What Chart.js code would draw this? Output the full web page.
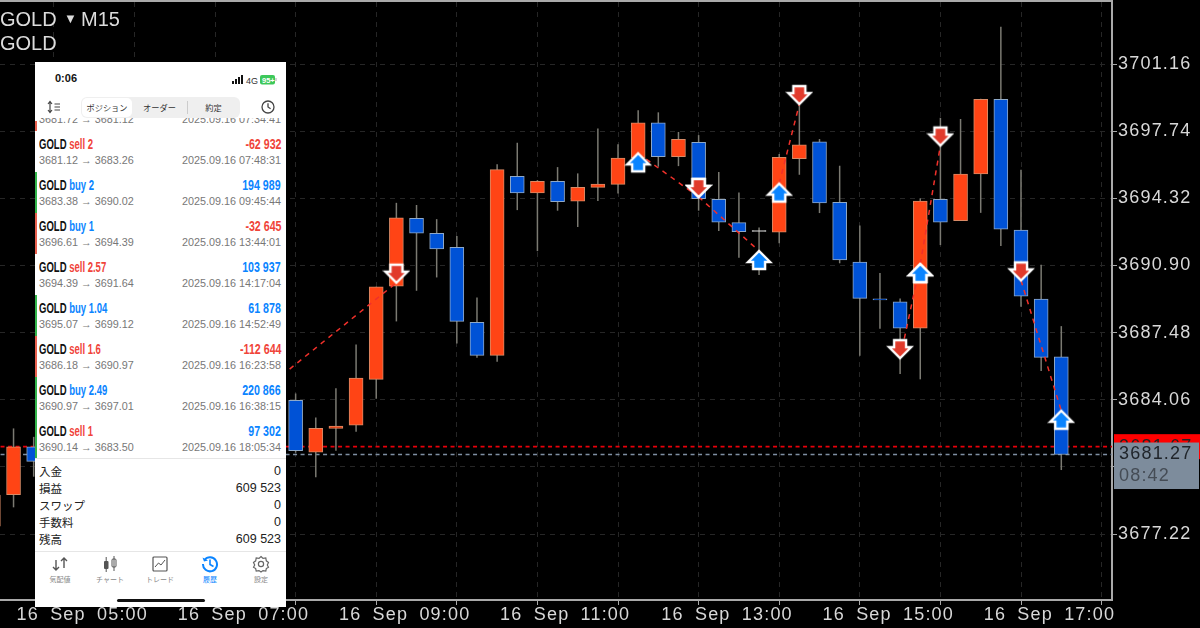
<!DOCTYPE html>
<html><head><meta charset="utf-8">
<script src="https://cdn.jsdelivr.net/npm/chart.js@4"></script>
<style>
html,body{margin:0;padding:0;background:#000;width:1200px;height:628px;overflow:hidden}
#c{position:absolute;left:0;top:0}
.h{position:absolute;color:#dcdcdc;font:20px 'Liberation Sans',sans-serif;white-space:nowrap;line-height:24px}
#ph{position:absolute;left:35px;top:62px;width:251px;height:545px;background:#fff;overflow:hidden;font-family:'Liberation Sans',sans-serif;color:#111}
#ph>*{position:absolute}
.a{position:absolute;white-space:nowrap}
.t{font:bold 14px/14px 'Liberation Sans',sans-serif;transform:scaleX(.68);transform-origin:left center}
.v{font:bold 14px/14px 'Liberation Sans',sans-serif;transform:scaleX(.76);transform-origin:right center;right:5px}
.s{font:10.8px/12px 'Liberation Sans',sans-serif;color:#777}
.j{font-family:'Noto Sans CJK JP',sans-serif}
.lab{font:7px/9px 'Noto Sans CJK JP',sans-serif;color:#888;width:50px;text-align:center}
</style></head><body>
<canvas id="c" width="1200" height="628"></canvas>
<div class="h" style="left:0;top:7px">GOLD</div>
<div class="h" style="left:64px;top:7px;font-size:13px">▼</div>
<div class="h" style="left:81px;top:7px">M15</div>
<div class="h" style="left:0;top:31px">GOLD</div>
<div id="ph"></div>
<script>
// ---------- candles (15-minute bars), prices ----------
const times = ['04:45','05:00','05:15','08:30','08:45','09:00','09:15','09:30','09:45','10:00','10:15','10:30','10:45','11:00','11:15','11:30','11:45','12:00','12:15','12:30','12:45','13:00','13:15','13:30','13:45','14:00','14:15','14:30','14:45','15:00','15:15','15:30','15:45','16:00','16:15','16:30','16:45','17:00','17:15','17:30','17:45','18:00'];
const opens = [3677.62,3679.22,3681.66,3684.03,3681.39,3682.60,3682.77,3685.10,3689.85,3693.30,3692.54,3691.82,3688.00,3686.32,3695.44,3694.60,3695.18,3694.18,3694.88,3695.03,3696.37,3698.17,3696.44,3697.17,3694.27,3693.08,3692.64,3692.60,3696.34,3697.20,3694.11,3691.07,3689.20,3689.05,3687.70,3694.27,3693.18,3695.56,3699.36,3692.70,3689.19,3686.25];
const highs = [3679.20,3682.60,3682.17,3684.38,3683.16,3684.64,3686.88,3689.81,3694.09,3693.98,3693.26,3692.40,3689.27,3696.05,3697.15,3695.25,3695.91,3695.59,3697.88,3697.08,3698.80,3698.70,3697.70,3697.54,3695.66,3694.62,3692.84,3696.58,3699.17,3697.34,3695.98,3692.94,3690.51,3689.22,3694.32,3698.42,3698.36,3699.39,3703.06,3695.78,3690.94,3687.81];
const lows = [3677.62,3678.58,3680.14,3681.36,3680.11,3681.46,3682.43,3684.11,3688.05,3689.61,3690.29,3686.93,3686.20,3685.99,3693.72,3691.63,3693.69,3692.86,3694.18,3694.57,3696.37,3695.93,3695.96,3693.69,3692.65,3691.29,3690.41,3692.03,3695.52,3693.57,3691.01,3686.30,3687.68,3685.37,3685.10,3691.94,3693.18,3693.58,3691.89,3688.80,3685.52,3680.48];
const closes = [3679.20,3681.66,3680.92,3681.46,3682.60,3682.72,3685.16,3689.81,3693.33,3692.55,3691.74,3688.05,3686.32,3695.78,3694.60,3695.18,3694.15,3694.88,3695.05,3696.37,3698.17,3696.44,3697.32,3694.30,3693.10,3692.62,3692.64,3696.41,3697.05,3694.08,3691.18,3689.22,3689.14,3687.70,3694.18,3693.11,3695.56,3699.36,3692.75,3689.33,3686.22,3681.27];

// ---------- trades: open / close bar and price ----------
const tradeOpenBars = ['07:45','12:45','13:30','14:30','16:00','16:15','17:30'];
const tradeCloseBars = ['09:45','13:30','14:15','14:45','16:15','16:30','18:00'];
const tradeOpenPrices = [3683.38,3696.61,3694.39,3695.07,3686.18,3690.97,3690.14];
const tradeClosePrices = [3690.02,3694.39,3691.64,3699.12,3690.97,3697.01,3683.50];
const tradeSides = ['buy','buy','sell','buy','sell','buy','sell'];

// ---------- axes ----------
const priceTicks = [3701.16,3697.74,3694.32,3690.90,3687.48,3684.06,3680.64,3677.22];
const hourTicks = [5,6,7,8,9,10,11,12,13,14,15,16,17,18];
const bidPrice = 3681.27, askPrice = 3681.67;
const countdown = '08:42';

// ---------- phone panel ----------
const rowNames = ['sell 2','buy 2','buy 1','sell 2.57','buy 1.04','sell 1.6','buy 2.49','sell 1'];
const rowProfit = ['-62 932','194 989','-32 645','103 937','61 878','-112 644','220 866','97 302'];
const rowPrices = ['3681.12 → 3683.26','3683.38 → 3690.02','3696.61 → 3694.39','3694.39 → 3691.64','3695.07 → 3699.12','3686.18 → 3690.97','3690.97 → 3697.01','3690.14 → 3683.50'];
const rowTimes = ['2025.09.16 07:48:31','2025.09.16 09:45:44','2025.09.16 13:44:01','2025.09.16 14:17:04','2025.09.16 14:52:49','2025.09.16 16:23:58','2025.09.16 16:38:15','2025.09.16 18:05:34'];
const summaryLabels = ['入金','損益','スワップ','手数料','残高'];
const summaryValues = ['0','609 523','0','0','609 523'];
const tabLabels = ['ポジション','オーダー','約定'];
const navLabels = ['気配値','チャート','トレード','履歴','設定'];

const RED='#FF4415', BLUE='#0052D6';
const hour = s => { const [h,m]=s.split(':').map(Number); return h+m/60; };

function arrowCanvas(dir, fill){
  const c=document.createElement('canvas'); c.width=28; c.height=44;
  const g=c.getContext('2d'); g.translate(14,22); if(dir==='up') g.scale(1,-1);
  // tip at the centre of the image, shaft away from it
  g.beginPath();
  g.moveTo(0,0); g.lineTo(11,-11); g.lineTo(6,-11); g.lineTo(6,-18); g.lineTo(-6,-18); g.lineTo(-6,-11); g.lineTo(-11,-11); g.closePath();
  g.fillStyle=fill; g.fill(); g.lineWidth=2.4; g.strokeStyle='#fff'; g.lineJoin='miter'; g.stroke();
  return c;
}
const upArrow=arrowCanvas('up','#0A84FF'), downArrow=arrowCanvas('down','#E13A2B');

const xs=times.map(hour);
const bodyColor=times.map((_,i)=> closes[i]>opens[i]?RED: closes[i]<opens[i]?BLUE:'#e8e8e8');
const borderColor=times.map((_,i)=> closes[i]>opens[i]?'#D98A66': closes[i]<opens[i]?'#8FA9C8':'#e8e8e8');

const datasets=[];
datasets.push({type:'line',data:[{x:0,y:askPrice},{x:30,y:askPrice}],borderColor:'#E8000A',borderWidth:1.6,borderDash:[4,3.5],pointRadius:0,order:8});
datasets.push({type:'line',data:[{x:0,y:bidPrice},{x:30,y:bidPrice}],borderColor:'#7F8FA3',borderWidth:1.6,borderDash:[4,3.5],pointRadius:0,order:8});
datasets.push({type:'bar',grouped:false,barThickness:1.5,inflateAmount:0,borderWidth:0,backgroundColor:'#7B7A72',data:xs.map((x,i)=>({x,y:[lows[i],highs[i]]})),order:7});
datasets.push({type:'bar',grouped:false,barThickness:14,borderWidth:1,borderSkipped:false,backgroundColor:bodyColor,borderColor:borderColor,data:xs.map((x,i)=>({x,y:[opens[i],closes[i]===opens[i]?closes[i]+0.04:closes[i]]})),order:6});
tradeOpenBars.forEach((t,i)=>{
  datasets.push({type:'line',data:[{x:hour(t),y:tradeOpenPrices[i]},{x:hour(tradeCloseBars[i]),y:tradeClosePrices[i]}],borderColor:'#F0302A',borderWidth:1.5,borderDash:[5,5],pointRadius:0,order:3});
});
const pts=side=>tradeSides.flatMap((s,i)=> s===side?[{x:hour(tradeOpenBars[i]),y:tradeOpenPrices[i]}]:[{x:hour(tradeCloseBars[i]),y:tradeClosePrices[i]}]);
datasets.push({type:'scatter',data:pts('buy'),pointStyle:upArrow,pointRadius:14,order:1});
datasets.push({type:'scatter',data:pts('sell'),pointStyle:downArrow,pointRadius:14,order:1});

const panelPlugin={id:'panel',
  beforeDraw(ch){ch.ctx.letterSpacing='1.2px';ch.ctx.wordSpacing='5px';},
  afterDraw(ch){
    const g=ch.ctx,y=ch.scales.y; g.save();
    // top frame
    g.fillStyle='#a9a9a9'; g.fillRect(0,0,1113,2);
    const ya=y.getPixelForValue(askPrice), yb=y.getPixelForValue(bidPrice);
    g.font="18px 'Liberation Sans',sans-serif"; g.textBaseline='middle'; g.textAlign='left';
    // ask box (almost hidden by the bid box)
    g.fillStyle='#FF0000'; g.fillRect(1114,ya-12.5,86,25);
    g.fillStyle='#222'; g.fillText(askPrice.toFixed(2),1119,ya);
    // bid box with countdown
    g.fillStyle='#7D8C9C'; g.fillRect(1114,yb-12,85,46.5);
    g.fillStyle='#20252b'; g.fillText(bidPrice.toFixed(2),1119,yb);
    g.fillStyle='#454c55'; g.fillText(countdown,1119,yb+22);
    g.restore(); g.letterSpacing='0px'; g.wordSpacing='0px';
  }};

new Chart(document.getElementById('c'),{
  data:{datasets},
  plugins:[panelPlugin],
  options:{responsive:false,animation:false,devicePixelRatio:1,
    layout:{autoPadding:false,padding:{top:2,left:0,right:0,bottom:0}},
    plugins:{legend:{display:false},tooltip:{enabled:false}},
    events:[],
    scales:{
      x:{type:'linear',position:'bottom',min:4.832,max:18.629,offset:false,
        afterBuildTicks(s){s.ticks=hourTicks.map(v=>({value:v}));},
        afterFit(s){s.height=28;s.paddingLeft=0;s.paddingRight=0;},
        grid:{color:'#262626',tickColor:'#a9a9a9',tickBorderDash:[],tickLength:5,drawOnChartArea:true},
        border:{display:true,color:'#a9a9a9',width:2,dash:[5,5]},
        ticks:{autoSkip:false,maxRotation:0,minRotation:0,align:'start',labelOffset:3,padding:-1,color:'#d8d8d8',
          font:{family:"'Liberation Sans',sans-serif",size:18},
          callback:v=>v%2===1?'16 Sep '+String(v).padStart(2,'0')+':00':''}
      },
      y:{type:'linear',position:'right',min:3673.86,max:3704.32,
        afterBuildTicks(s){s.ticks=priceTicks.map(v=>({value:v}));},
        afterFit(s){s.width=88;s.paddingTop=0;s.paddingBottom=0;},
        grid:{color:'#262626',tickColor:'#a9a9a9',tickBorderDash:[],tickLength:5},
        border:{display:true,color:'#a9a9a9',width:2,dash:[5,5]},
        ticks:{autoSkip:false,padding:1,color:'#d8d8d8',
          font:{family:"'Liberation Sans',sans-serif",size:18},
          callback:v=>v.toFixed(2)}
      }
    }
  }
});

// ---------- phone overlay (coordinates relative to the panel) ----------
const ph=document.getElementById('ph'); const OX=35,OY=62;
function put(html,css,cls){const d=document.createElement('div'); if(cls)d.className=cls; d.style.cssText=css; d.innerHTML=html; ph.appendChild(d); return d;}
put('0:06',`left:${55-OX}px;top:${71-OY}px;font:bold 11px/14px 'Liberation Sans'`);
put(`<svg width="46" height="12" viewBox="0 0 46 12"><g fill="#111"><rect x="0" y="7" width="2" height="3"/><rect x="3" y="5" width="2" height="5"/><rect x="6" y="3" width="2" height="7"/><rect x="9" y="1" width="2" height="9"/></g><text x="14" y="10" font-size="9" font-family="Liberation Sans" fill="#333">4G</text><rect x="28" y="1" width="15" height="9.5" rx="2" fill="#3dc85a"/><text x="30" y="9" font-size="7.5" font-weight="bold" font-family="Liberation Sans" fill="#fff">95+</text><rect x="43.5" y="4" width="1" height="3" fill="#aaa"/></svg>`,`left:${232-OX}px;top:${72-OY}px;width:46px;height:12px`);
put(`<svg width="14" height="14" viewBox="0 0 14 14" fill="none" stroke="#444" stroke-width="1.2"><path d="M3 1.5V12.5M1 4L3 1.5L5 4M1 10L3 12.5L5 10"/><path d="M7.5 4H13M7.5 7H13M7.5 10H13"/></svg>`,`left:${47-OX}px;top:${100-OY}px;width:14px;height:14px`);
put('',`left:${81-OX}px;top:${97-OY}px;width:159px;height:21px;background:#efefef;border-radius:6px`);
put('',`left:${82-OX}px;top:${98-OY}px;width:50px;height:19px;background:#fff;border-radius:5px`);
put('',`left:${187-OX}px;top:${101-OY}px;width:1px;height:13px;background:#ccc`);
tabLabels.forEach((t,i)=>put(t,`left:${[82,132,187][i]-OX}px;top:${100-OY}px;width:${[50,55,53][i]}px;text-align:center;font-size:8.2px;line-height:15px;color:#333`,'j'));
put(`<svg width="14" height="14" viewBox="0 0 14 14" fill="none" stroke="#444" stroke-width="1.3"><circle cx="7" cy="7" r="6"/><path d="M7 3.2V7L9.6 8.8"/></svg>`,`left:${261-OX}px;top:${100-OY}px;width:14px;height:14px`);

const list=put('',`left:0;top:${118-OY}px;width:251px;height:${458-118}px;overflow:hidden`);
function rowAdd(html,css,cls){const d=document.createElement('div'); d.className='a '+(cls||''); d.style.cssText=css; d.innerHTML=html; list.appendChild(d);}
// partly hidden row on top of the list
rowAdd('3681.72 → 3681.12','left:4px;top:-5px','s');
rowAdd('2025.09.16 07:34:41','right:5px;top:-5px','s');
rowAdd('','left:0;top:3px;width:2px;height:10px;background:#e8604e');
const stripes=[null,'#33b54a','#e8604e',null,'#33b54a','#e8604e','#33b54a','#33b54a'];
rowNames.forEach((n,i)=>{
  const y=19+41*i;
  if(stripes[i]) rowAdd('',`left:0;top:${13+41*i}px;width:2px;height:41px;background:${stripes[i]}`);
  const sell=n.startsWith('sell'), neg=rowProfit[i][0]==='-';
  rowAdd(`<span style="color:#111">GOLD</span> <span style="color:${sell?'#f0443a':'#0a84ff'}">${n}</span>`,`left:4px;top:${y}px`,'t');
  rowAdd(rowProfit[i],`top:${y}px;color:${neg?'#f0443a':'#0a84ff'}`,'v');
  rowAdd(rowPrices[i],`left:4px;top:${y+17}px`,'s');
  rowAdd(rowTimes[i],`right:5px;top:${y+17}px`,'s');
});
put('',`left:0;top:${458-OY}px;width:251px;height:1px;background:#e6e6e6`);
summaryLabels.forEach((t,i)=>{
  const y=471+17.1*i-OY;
  put(t,`left:4px;top:${y-8}px;font-size:11.5px;line-height:16px;color:#222`,'j');
  put(summaryValues[i],`right:5px;top:${y-8}px;font-size:12.5px;line-height:16px;color:#222`);
});
put('',`left:0;top:${551-OY}px;width:251px;height:1px;background:#e6e6e6`);
const navIcons=[
 `<path d="M5 5V15M2 12L5 15L8 12M13 13V3M10 6L13 3L16 6" stroke="#555" stroke-width="1.4" fill="none"/>`,
 `<g fill="#555"><rect x="3" y="6" width="4.5" height="8" rx="1"/><rect x="11" y="4" width="4" height="8" rx="1" fill="none" stroke="#555"/></g><path d="M5.2 2V17M13 1V16" stroke="#555"/>`,
 `<rect x="2" y="2" width="14" height="14" rx="1" fill="none" stroke="#555" stroke-width="1.2"/><path d="M4 12L7.5 8L10 10L14 5" fill="none" stroke="#555"/>`,
 `<path d="M3.5 5A7 7 0 1 1 2 9" fill="none" stroke="#0a84ff" stroke-width="2"/><path d="M1.5 2.5L3 6.5L7 5.5Z" fill="#0a84ff"/><path d="M9 4.5V9.5L12.5 11.5" fill="none" stroke="#0a84ff" stroke-width="1.6"/>`,
 `<circle cx="9" cy="9" r="2.6" fill="none" stroke="#666" stroke-width="1.2"/><path d="M9 1.5L11 3.4L13.8 3L14.3 5.8L16.5 7.5L15.3 9.9L16.5 12.3L14.3 13.6L13.8 16L11 15.6L9 17L7 15.6L4.2 16L3.7 13.6L1.5 12.3L2.7 9.9L1.5 7.5L3.7 5.8L4.2 3L7 3.4Z" fill="none" stroke="#666" stroke-width="1.2"/>`];
navLabels.forEach((t,i)=>{
  const cx=[60,110,160,210,261][i]-OX;
  put(`<svg width="18" height="18" viewBox="0 0 18 18">${navIcons[i]}</svg>`,`left:${cx-9}px;top:${555-OY}px;width:18px;height:18px`);
  put(t,`left:${cx-25}px;top:${575-OY}px;color:${i===3?'#0a84ff':'#888'}`,'lab');
});
put('',`left:${117-OX}px;top:${599-OY}px;width:88px;height:3px;background:#111;border-radius:2px`);
</script>
</body></html>
